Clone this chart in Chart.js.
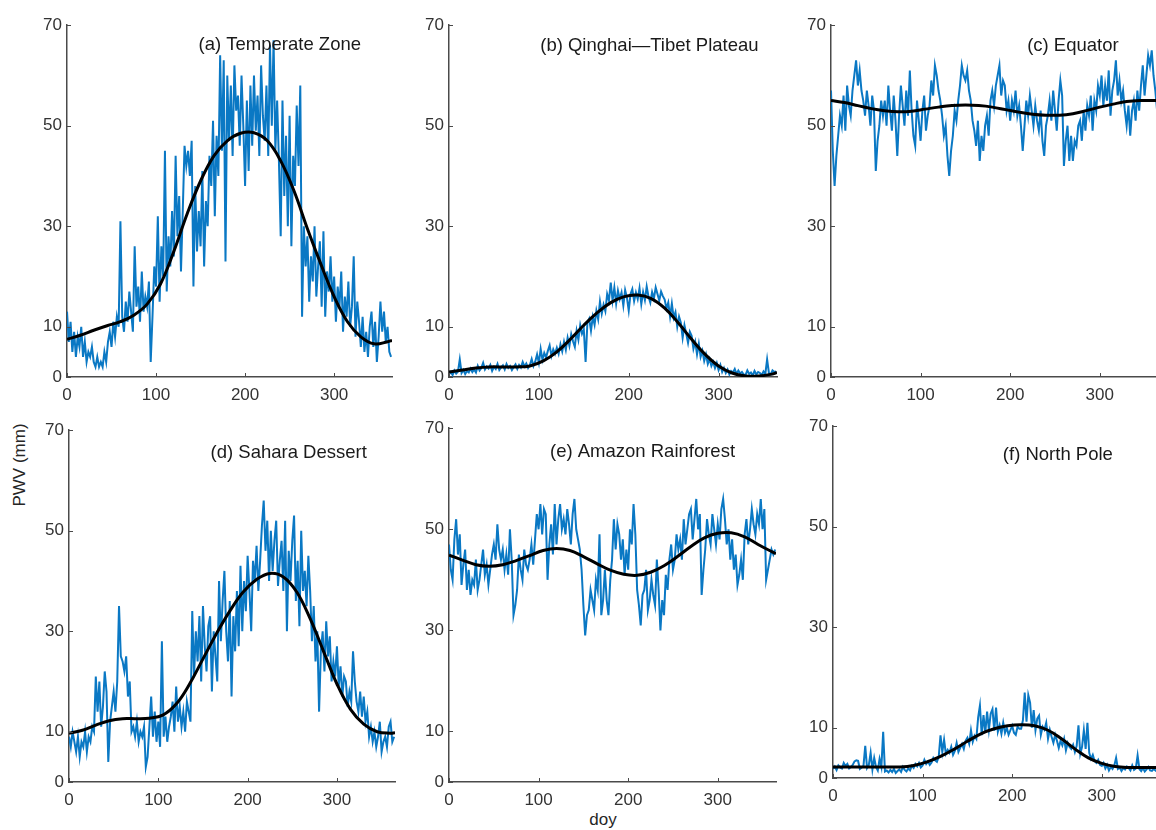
<!DOCTYPE html>
<html>
<head>
<meta charset="utf-8">
<script src="https://cdn.jsdelivr.net/npm/chart.js@4.4.1/dist/chart.umd.min.js"></script>
<style>
  html, body { margin: 0; padding: 0; background: #fff; overflow: hidden; }
  #wrap { position: relative; width: 1156px; height: 830px; }
  #wrap canvas { position: absolute; }
  .axis-label { position: absolute; font-family: "Liberation Sans", Arial, sans-serif; font-size: 17px; color: #262626; white-space: nowrap; }
</style>
</head>
<body>
<div id="wrap">
  <div class="axis-label" id="ylab">PWV (mm)</div>
  <div class="axis-label" id="xlab">doy</div>
</div>
<script>
// daily PWV, every 2nd day of year (day 0 ... 364), 15 values per row = 30 days
const sampleStep = 2;

const tempZone = [
  13, 7, 11, 5, 9, 4, 8, 6, 10, 4, 7, 3, 5, 4, 6,
  3, 2, 4, 2, 3, 2, 5, 3, 7, 9, 6, 11, 8, 12, 10,
  31, 12, 9, 15, 11, 17, 13, 9, 26, 14, 18, 11, 21, 13, 16,
  14, 19, 3, 12, 22, 18, 32, 15, 26, 20, 45, 17, 28, 22, 33,
  24, 44, 28, 36, 21, 33, 46, 42, 45, 40, 47, 18, 38, 25, 33,
  26, 41, 22, 35, 30, 44, 38, 51, 32, 48, 40, 64, 45, 63, 23,
  60, 47, 58, 44, 62, 53, 56, 46, 60, 50, 38, 55, 41, 58, 46,
  60, 49, 56, 44, 62, 52, 47, 58, 44, 66, 50, 67, 45, 55, 43,
  28, 55, 36, 48, 30, 52, 26, 44, 38, 54, 42, 58, 12, 30, 22,
  28, 15, 24, 19, 30, 16, 22, 27, 14, 29, 12, 21, 17, 24, 15,
  20, 11, 18, 14, 21, 9, 16, 12, 19, 10, 14, 24, 8, 15, 11,
  6, 12, 5, 9, 4, 10, 13, 6, 11, 3, 8, 15, 9, 13, 7,
  10, 5, 4
];
const tibet = [
  0.5, 1.0, 0.4, 1.3, 0.7, 1.1, 3.5, 0.8, 1.4, 0.6, 1.2, 0.9, 1.7, 1.0, 1.5,
  0.9, 2.2, 1.3, 1.8, 2.8, 1.5, 2.1, 1.7, 2.4, 1.2, 2.0, 1.6, 2.6, 1.4, 1.9,
  2.3, 1.5, 2.6, 1.8, 2.2, 1.4, 2.0, 2.5, 1.6, 2.4, 1.9, 3.0, 2.1, 2.7, 1.8,
  2.4, 3.6, 2.2, 3.1, 4.5, 2.8, 5.6, 3.4, 4.8, 3.9, 5.2, 6.3, 4.2, 5.5, 4.6,
  5.8, 4.6, 6.5, 5.1, 7.0, 5.4, 7.8, 6.2, 8.5, 7.1, 6.0, 9.2, 7.4, 10.3, 8.6,
  9.5, 3.0, 10.8, 11.6, 9.2, 12.0, 10.4, 13.2, 11.5, 15.0, 12.6, 14.4, 13.1, 16.5, 15.2,
  18.8, 15.2, 17.8, 14.6, 17.2, 15.5, 16.8, 14.2, 17.3, 15.8, 13.2, 16.5, 17.5, 15.1, 16.8,
  15.5, 17.7, 14.5, 16.9, 15.3, 18.0, 16.0, 14.8, 16.9, 15.6, 17.8, 16.5, 15.2, 17.0, 16.1,
  15.4, 13.6, 14.8, 12.0, 14.6, 11.8, 12.9, 10.0, 12.0, 10.8, 7.8, 10.3, 8.6, 6.8, 9.0,
  8.2, 5.6, 7.0, 4.5, 6.6, 4.0, 5.2, 3.2, 4.5, 2.6, 3.6, 2.2, 3.0, 1.8, 2.8,
  1.4, 2.4, 1.0, 1.8, 0.8, 1.5, 0.5, 1.2, 0.9, 1.6, 0.6, 1.3, 0.7, 1.0, 0.5,
  0.4, 1.3, 0.6, 0.9, 0.3, 1.2, 0.5, 1.0, 0.8, 0.4, 1.1, 0.6, 3.5, 0.8, 0.5,
  1.3, 1.0, 1.1
];
const equator = [
  57, 45, 38, 44, 48, 52, 50, 56, 49, 58, 54, 52, 57, 60, 63,
  58, 61, 57, 55, 52, 57, 54, 50, 56, 53, 41, 47, 50, 55, 52,
  55, 50, 58, 53, 49, 56, 51, 44, 52, 58, 54, 50, 57, 52, 61,
  53, 48, 46, 55, 51, 47, 53, 56, 49, 52, 54, 59, 56, 62, 60,
  57, 55, 52, 48, 50, 44, 40, 45, 48, 53, 51, 55, 58, 62, 60,
  59, 61, 57, 55, 51, 49, 46, 51, 43, 48, 45, 50, 52, 48, 55,
  57, 54, 58, 60, 62, 56, 59, 58, 53, 55, 51, 55, 53, 57, 52,
  54, 50, 45, 50, 55, 52, 56, 53, 50, 54, 51, 49, 53, 47, 44,
  50, 52, 55, 51, 57, 53, 49, 55, 59, 56, 42, 47, 50, 43, 48,
  43, 47, 46, 50, 51, 47, 53, 49, 54, 52, 56, 49, 55, 53, 58,
  56, 60, 54, 58, 55, 61, 52, 57, 59, 63, 56, 59, 55, 57, 53,
  50, 54, 48, 53, 55, 51, 57, 53, 58, 62, 56, 60, 64, 62, 65,
  60, 57, 53
];
const sahara = [
  9, 7, 10, 8, 6, 9, 5, 8, 7, 10, 6, 9, 8, 11, 10,
  21, 14, 20, 11, 15, 22, 18, 4, 12, 15, 18, 14, 20, 35, 25,
  24, 22, 25, 17, 20, 10, 11, 9, 12, 8, 10, 9, 11, 3, 5,
  11, 17, 9, 14, 8, 12, 7, 28, 9, 13, 8, 11, 13, 16, 10,
  19, 12, 15, 11, 14, 10, 16, 14, 12, 34, 21, 30, 24, 33, 20,
  35, 27, 22, 31, 33, 18, 30, 25, 20, 40, 28, 36, 42, 30, 24,
  36, 17, 33, 26, 38, 27, 43, 30, 40, 34, 45, 38, 30, 44, 40,
  47, 38, 44, 51, 56, 46, 52, 40, 50, 42, 48, 52, 39, 44, 48,
  38, 52, 30, 46, 40, 48, 53, 36, 44, 31, 50, 38, 42, 35, 45,
  38, 28, 35, 24, 30, 14, 26, 30, 22, 32, 25, 29, 20, 24, 21,
  27, 19, 23, 17, 21, 20, 15, 18, 16, 26, 20, 16, 14, 18, 13,
  17, 12, 14, 9, 11, 8, 10, 7, 9, 12, 6, 8, 9, 7, 11,
  12, 8, 9
];
const amazon = [
  47, 42, 40, 48, 52, 45, 49, 39, 43, 46, 38, 42, 37, 40, 39,
  44, 38, 40, 43, 46, 41, 43, 39, 42, 45, 47, 44, 51, 46, 44,
  46, 42, 45, 41, 50, 44, 33, 35, 38, 45, 42, 40, 46, 43, 42,
  44, 47, 43, 48, 53, 50, 55, 49, 54, 53, 40, 47, 51, 45, 55,
  47, 52, 55, 50, 52, 49, 54, 51, 47, 53, 56, 50, 48, 46, 42,
  35, 29, 33, 34, 38, 36, 34, 40, 38, 49, 33, 36, 42, 36, 33,
  40, 44, 52, 46, 51, 49, 44, 48, 41, 46, 42, 50, 47, 55, 49,
  38, 35, 31, 37, 38, 42, 34, 36, 40, 37, 35, 44, 38, 30, 36,
  33, 41, 38, 44, 47, 42, 44, 49, 46, 48, 44, 52, 47, 50, 53,
  54, 48, 52, 56, 50, 53, 37, 42, 46, 52, 49, 47, 53, 50, 47,
  51, 48, 54, 56, 52, 47, 50, 44, 48, 42, 45, 39, 41, 44, 40,
  49, 52, 47, 50, 54, 51, 49, 53, 51, 56, 50, 54, 40, 42, 44,
  46, 45, 46
];
const northPole = [
  1.8, 2.3, 1.6, 2.5, 2.1, 1.9, 3.0, 2.4, 2.8, 1.9, 2.2, 2.6, 3.3, 3.5, 3.4,
  1.8, 2.1, 2.4, 6.4, 2.0, 2.6, 5.0, 1.7, 4.0, 2.2, 1.5, 3.8, 2.2, 9.2, 1.3,
  1.5, 1.1, 1.6, 1.2, 1.8, 1.0, 1.4, 1.7, 1.2, 2.2, 1.6, 1.3, 1.9, 1.5, 2.4,
  2.0, 2.8, 2.3, 3.0, 2.1, 2.5, 3.6, 2.8, 3.3, 2.6, 3.1, 4.0, 3.5, 3.2, 4.2,
  8.5, 5.2, 7.6, 4.8, 5.6, 5.0, 6.2, 4.6, 5.4, 7.0, 5.2, 6.0, 6.8, 5.8, 7.4,
  8.0, 6.8, 9.5, 7.2, 8.4, 7.8, 12.0, 14.4, 8.5, 12.5, 9.0, 13.2, 9.6, 12.8, 13.7,
  9.4, 14.0, 9.2, 10.5, 8.8, 11.0, 9.0, 10.0, 8.6, 9.5, 10.4, 9.0, 8.6, 10.2, 9.8,
  9.8, 11.5, 17.0, 11.2, 16.5, 15.0, 10.0, 13.5, 9.5, 11.8, 12.4, 8.6, 10.2, 9.6, 11.0,
  7.8, 9.6, 8.2, 7.0, 8.6, 7.4, 6.0, 7.4, 6.5, 7.8, 5.5, 7.0, 6.2, 5.8, 6.6,
  5.2, 6.4, 10.5, 4.8, 6.2, 9.5, 5.8, 11.0, 5.0, 3.8, 4.6, 3.4, 3.0, 3.6, 2.6,
  2.4, 3.0, 1.9, 2.6, 1.5, 2.2, 1.8, 2.5, 4.0, 1.8, 2.1, 1.4, 2.0, 1.7, 2.3,
  2.0, 1.5, 2.5, 1.6, 1.9, 4.5, 1.8, 1.4, 2.0, 1.3, 1.7, 2.2, 1.5, 1.4, 1.8,
  1.5, 1.2, 1.3
];

// fitted seasonal curves
const fitDays = [0, 15, 30, 45, 60, 75, 90, 105, 120, 135, 150, 165, 180, 195, 210, 225, 240, 255, 270, 285, 300, 315, 330, 345, 360, 365];
const tempZoneFit = [7.5, 8.3, 9.3, 10.2, 11, 12.3, 14.5, 18.5, 25, 32.5, 39, 44, 47, 48.5, 48.6, 47, 43, 37, 29.5, 22.5, 16, 11, 8, 6.6, 7, 7.3];
const tibetFit = [1.0, 1.4, 1.8, 2.0, 2.0, 2.0, 2.2, 3.2, 5.0, 7.5, 10.3, 12.8, 14.8, 16.0, 16.3, 15.6, 13.7, 10.8, 7.5, 4.5, 2.2, 0.8, 0.2, 0.2, 0.6, 0.9];
const equatorFit = [55, 54.6, 54, 53.4, 53, 52.8, 52.9, 53.3, 53.7, 54, 54.1, 54, 53.7, 53.2, 52.7, 52.3, 52.1, 52.1, 52.4, 53, 53.7, 54.3, 54.8, 55, 55, 55];
const saharaFit = [9.7, 10.3, 11.3, 12.2, 12.6, 12.6, 12.7, 13.3, 15.5, 19.5, 24.5, 29.5, 34, 37.8, 40.3, 41.5, 40.8, 37.8, 32.5, 26, 19.5, 14.5, 11.5, 10, 9.7, 9.8];
const amazonFit = [44.9, 43.9, 43.0, 42.7, 43.0, 43.8, 44.8, 45.8, 46.2, 45.8, 44.6, 43.2, 41.9, 41.1, 40.9, 41.5, 42.8, 44.6, 46.6, 48.3, 49.2, 49.3, 48.5, 47, 45.6, 45.2];
const northPoleFit = [2.2, 2.2, 2.2, 2.2, 2.2, 2.2, 2.5, 3.2, 4.3, 5.7, 7.3, 8.8, 9.8, 10.4, 10.6, 10.4, 9.5, 7.8, 5.8, 4.0, 2.9, 2.3, 2.1, 2.1, 2.1, 2.1];

const yTicks = [0, 10, 30, 50, 70];
const xTicks = [0, 100, 200, 300];
const panelTitles = ["(a) Temperate Zone", "(b) Qinghai\u2014Tibet Plateau", "(c) Equator", "(d) Sahara Dessert", "(e) Amazon Rainforest", "(f) North Pole"];

// panel placement: plot-area left/top/width/height in page px, title anchor in data units
const panels = [
  { daily: tempZone,  fit: tempZoneFit,  left: 67,  top: 22,  w: 325, h: 355, tDay: 239, tVal: 66 },
  { daily: tibet,     fit: tibetFit,     left: 449, top: 22,  w: 328, h: 355, tDay: 223, tVal: 65.8 },
  { daily: equator,   fit: equatorFit,   left: 831, top: 22,  w: 327, h: 355, tDay: 270, tVal: 65.8 },
  { daily: sahara,    fit: saharaFit,    left: 69,  top: 427, w: 326, h: 355, tDay: 246, tVal: 65.5 },
  { daily: amazon,    fit: amazonFit,    left: 449, top: 425, w: 327, h: 357, tDay: 216, tVal: 65.3 },
  { daily: northPole, fit: northPoleFit, left: 833, top: 423, w: 327, h: 355, tDay: 251, tVal: 64.3 }
];

const FONT = '"Liberation Sans", Arial, sans-serif';
const AXIS = '#4a4a4a';
const padL = 45, padT = 12, padR = 8, padB = 32;

// MATLAB style inward tick marks
const innerTicks = {
  id: 'innerTicks',
  afterDraw(chart) {
    const ctx = chart.ctx, a = chart.chartArea;
    const xs = chart.scales.x, ys = chart.scales.y;
    ctx.save();
    ctx.strokeStyle = AXIS;
    ctx.lineWidth = 1;
    ctx.beginPath();
    xs.ticks.forEach(t => {
      const px = Math.round(xs.getPixelForValue(t.value)) + 0.5;
      ctx.moveTo(px, a.bottom);
      ctx.lineTo(px, a.bottom - 4);
    });
    ys.ticks.forEach(t => {
      const py = Math.round(ys.getPixelForValue(t.value)) + 0.5;
      ctx.moveTo(a.left, py);
      ctx.lineTo(a.left + 4, py);
    });
    ctx.stroke();
    ctx.restore();
  }
};

const wrap = document.getElementById('wrap');

panels.forEach((p, k) => {
  const cv = document.createElement('canvas');
  cv.width = padL + p.w + padR;
  cv.height = padT + p.h + padB;
  cv.style.left = (p.left - padL) + 'px';
  cv.style.top = (p.top - padT) + 'px';
  wrap.appendChild(cv);

  const titlePlugin = {
    id: 'panelTitle',
    afterDraw(chart) {
      const ctx = chart.ctx;
      ctx.save();
      ctx.font = '18.5px ' + FONT;
      ctx.fillStyle = '#1a1a1a';
      ctx.textAlign = 'center';
      ctx.textBaseline = 'middle';
      ctx.fillText(panelTitles[k], chart.scales.x.getPixelForValue(p.tDay), chart.scales.y.getPixelForValue(p.tVal));
      ctx.restore();
    }
  };

  new Chart(cv.getContext('2d'), {
    type: 'line',
    data: {
      datasets: [
        {
          data: p.fit.map((v, i) => ({ x: fitDays[i], y: v })),
          borderColor: '#000000',
          borderWidth: 3,
          pointRadius: 0,
          tension: 0.4
        },
        {
          data: p.daily.map((v, i) => ({ x: i * sampleStep, y: v })),
          borderColor: '#0a78c4',
          borderWidth: 2,
          pointRadius: 0,
          tension: 0
        }
      ]
    },
    options: {
      responsive: false,
      animation: false,
      events: [],
      layout: { padding: { left: 0, top: padT, right: padR, bottom: 0 } },
      plugins: { legend: { display: false }, tooltip: { enabled: false } },
      scales: {
        x: {
          type: 'linear',
          min: 0,
          max: 365,
          afterBuildTicks: s => { s.ticks = xTicks.map(v => ({ value: v })); },
          afterFit: s => { s.height = padB; },
          grid: { display: false, drawTicks: false },
          border: { display: true, color: AXIS, width: 1.5 },
          ticks: { color: '#333', font: { family: FONT, size: 17 }, padding: 8, maxRotation: 0 }
        },
        y: {
          type: 'linear',
          min: 0,
          max: 70,
          afterBuildTicks: s => { s.ticks = yTicks.map(v => ({ value: v })); },
          afterFit: s => { s.width = padL; },
          grid: { display: false, drawTicks: false },
          border: { display: true, color: AXIS, width: 1.5 },
          ticks: { color: '#333', font: { family: FONT, size: 17 }, padding: 5 }
        }
      }
    },
    plugins: [innerTicks, titlePlugin]
  });
});

// shared axis titles
const ylab = document.getElementById('ylab');
ylab.style.left = '20px';
ylab.style.top = '465px';
ylab.style.transform = 'translate(-50%, -50%) rotate(-90deg)';
const xlab = document.getElementById('xlab');
xlab.style.left = '603px';
xlab.style.top = '820px';
xlab.style.transform = 'translate(-50%, -50%)';
</script>
</body>
</html>
